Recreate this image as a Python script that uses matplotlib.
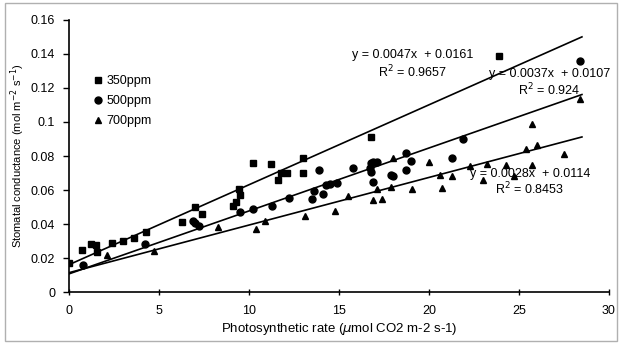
import matplotlib
matplotlib.use("Agg")
import matplotlib.pyplot as plt
from matplotlib.patches import Rectangle
import numpy as np

plt.rcParams["font.family"] = ["Liberation Sans", "DejaVu Sans"]

# 350ppm (squares)
x350 = [0, 0.7, 1.2, 1.5, 1.55, 2.4, 3.0, 3.6, 4.3, 6.3, 7.0, 7.4, 9.1, 9.3, 9.45,
        9.5, 10.2, 11.2, 11.6, 11.8, 12.1, 13.0, 13.0, 16.8, 23.9]
y350 = [0.017, 0.0247, 0.028, 0.0276, 0.0235, 0.0288, 0.030, 0.0318, 0.0353, 0.041,
        0.050, 0.046, 0.0505, 0.053, 0.0605, 0.057, 0.076, 0.0755, 0.066, 0.070,
        0.070, 0.079, 0.070, 0.091, 0.139]

# 500ppm (circles)
x500 = [0.75, 4.2, 6.9, 7.0, 7.2, 9.5, 10.2, 11.3, 12.2, 13.5, 13.6, 13.9, 14.1, 14.3,
        14.5, 14.9, 15.8, 16.7, 16.8, 16.9, 17.1, 16.8, 16.9, 17.9, 18.0, 18.7, 18.7,
        19.0, 21.3, 21.9, 28.4]
y500 = [0.016, 0.028, 0.042, 0.0405, 0.039, 0.047, 0.049, 0.0505, 0.0555, 0.0547,
        0.0595, 0.072, 0.0576, 0.063, 0.0635, 0.064, 0.073, 0.073, 0.076, 0.0765,
        0.0765, 0.0706, 0.065, 0.069, 0.068, 0.082, 0.072, 0.077, 0.0788, 0.090, 0.136]

# 700ppm (triangles)
x700 = [2.1, 4.7, 8.3, 10.4, 10.9, 13.1, 14.8, 15.5, 16.9, 17.4, 17.1, 17.9, 18.0,
        19.05, 20.0, 20.6, 20.7, 21.3, 22.3, 23.0, 23.2, 24.3, 24.7, 25.4, 25.7, 25.7,
        26.0, 27.5, 28.4]
y700 = [0.022, 0.024, 0.038, 0.037, 0.042, 0.045, 0.0476, 0.0565, 0.054, 0.0547,
        0.0606, 0.0618, 0.079, 0.0606, 0.0765, 0.069, 0.061, 0.0682, 0.074, 0.066,
        0.0753, 0.0747, 0.068, 0.084, 0.0747, 0.099, 0.0865, 0.081, 0.1135]

# trendlines (slope, intercept, R2)
fits = [(0.0047, 0.0161, "0.9657"), (0.0037, 0.0107, "0.924"), (0.0028, 0.0114, "0.8453")]
fit_x = [0, 28.5]
label_pos = [(19.1, 0.1394, 0.1294), (26.7, 0.128, 0.119), (25.6, 0.0694, 0.0606)]

fig = plt.figure(figsize=(6.22, 3.44), dpi=100)
ax = fig.add_axes([0.111, 0.151, 0.868, 0.791])

ax.plot(x350, y350, "s", color="black", markersize=3.8, label="350ppm", zorder=3)
ax.plot(x500, y500, "o", color="black", markersize=5, label="500ppm", zorder=3)
ax.plot(x700, y700, "^", color="black", markersize=3.8, label="700ppm", zorder=3)

for (m, b, r2), (tx, ty1, ty2) in zip(fits, label_pos):
    xs = np.array(fit_x)
    ax.plot(xs, m * xs + b, color="black", linewidth=1.2, zorder=2)
    ax.text(tx, ty1, f"y = {m}x  + {b}", ha="center", va="center", fontsize=9)
    ax.text(tx, ty2, f"R$^2$ = {r2}", ha="center", va="center", fontsize=9)

ax.set_xlim(0, 30)
ax.set_ylim(0, 0.16)
ax.set_xticks([0, 5, 10, 15, 20, 25, 30])
ax.set_yticks([0, 0.02, 0.04, 0.06, 0.08, 0.1, 0.12, 0.14, 0.16])
ax.set_yticklabels(["0", "0.02", "0.04", "0.06", "0.08", "0.1", "0.12", "0.14", "0.16"])
ax.spines["top"].set_visible(False)
ax.spines["right"].set_visible(False)
ax.spines["left"].set_linewidth(1.2)
ax.spines["bottom"].set_linewidth(1.2)
ax.tick_params(axis="y", direction="out", length=4, width=1, labelsize=9, pad=6)
ax.tick_params(axis="x", direction="inout", length=4, width=1, labelsize=9, pad=7)

ax.set_xlabel("Photosynthetic rate ($\\mu$mol CO2 m-2 s-1)", fontsize=9.5, labelpad=3)
ax.set_ylabel("Stomatal conductance (mol m$^{-2}$ s$^{-1}$)", fontsize=8, labelpad=3)

ax.legend(loc="upper left", bbox_to_anchor=(0.035, 0.82), frameon=False, fontsize=9,
          handlelength=0.6, handletextpad=0.4, labelspacing=0.65, borderpad=0)

# scanned page frame
fig.patches.append(Rectangle((0.008, 0.008), 0.984, 0.984, transform=fig.transFigure,
                             fill=False, edgecolor="#b0b0b0", linewidth=1))

fig.savefig("out.png", dpi=100)
